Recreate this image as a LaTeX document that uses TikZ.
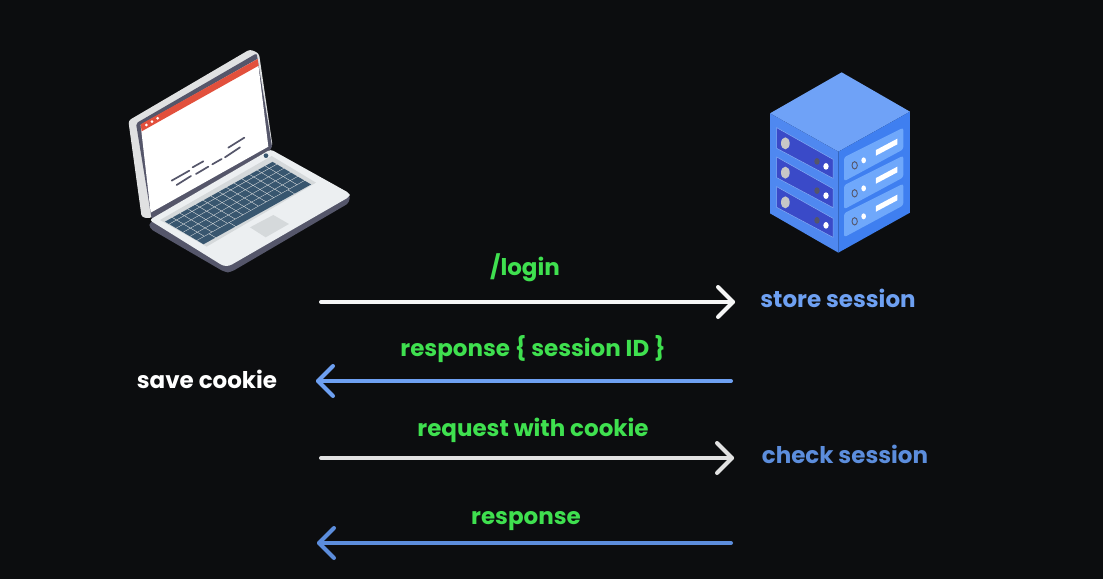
\documentclass[tikz,border=0pt]{standalone}
\usepackage{fontspec}
\setmainfont{Poppins}
\definecolor{bgc}{HTML}{0C0D0F}
\definecolor{grn}{HTML}{3FE04F}
\definecolor{blu}{HTML}{6EA0F2}
\definecolor{blud}{HTML}{5C8DDC}
\definecolor{wht}{HTML}{F6F6F6}
\definecolor{lid}{HTML}{E0E1E2}
\definecolor{bez}{HTML}{55566A}
\definecolor{redb}{HTML}{E2503C}
\definecolor{basec}{HTML}{ECEFF1}
\definecolor{well}{HTML}{D5D9DB}
\definecolor{keyc}{HTML}{38566F}
\definecolor{stop}{HTML}{6FA2F7}
\definecolor{sleft}{HTML}{4F88F0}
\definecolor{sright}{HTML}{3F7FF0}
\definecolor{pleft}{HTML}{3A4AC8}
\definecolor{pright}{HTML}{6FA8FB}
\newcommand{\keyk}[4]{%
 \pgfmathsetmacro\kx{165+#1*23.2+#2*20.8}%
 \pgfmathsetmacro\ky{575-#1*12.9+#2*12.2}%
 \pgfmathsetmacro\kux{(#3-.09)*23.2}\pgfmathsetmacro\kuy{-(#3-.09)*12.9}%
 \pgfmathsetmacro\kvx{#4*20.8}\pgfmathsetmacro\kvy{#4*12.2}%
 \fill[keyc] (\kx,\ky)--++(\kux,\kuy)--++(\kvx,\kvy)--++(-\kux,-\kuy)--cycle;}
\tikzset{
 lbl/.style={font=\bfseries\fontsize{23}{26}\selectfont},
 flow/.style={line width=4pt,line cap=round,line join=round},
 txtline/.style={draw=bez,line width=1.7pt,line cap=round},
 panelL/.style={fill=pleft,draw=sleft!70!white,line width=.5pt},
 panelR/.style={fill=pright,rounded corners=2.5pt},
}
\begin{document}
\begin{tikzpicture}[x=1pt,y=-1pt]
\fill[bgc] (0,0) rectangle (1103,579);
\useasboundingbox (0,0) rectangle (1103,579);
% laptop, in 1/3 px units
\begin{scope}[shift={(110,30)},x=0.3333pt,y=-0.3333pt]
 \fill[lid,rounded corners=3pt] (55,272)--(420,58)--(447,70)--(488,350)--(120,565)--(95,562)--cycle;
 \fill[bez,rounded corners=2pt] (78,280)--(440,70)--(487,355)--(125,567)--cycle;
 \fill[white] (92,285)--(443,87)--(475,350)--(122,548)--cycle;
 \fill[redb] (92,283)--(443,87)--(446,107)--(95,304)--cycle;
 \foreach \x/\y in {109/285,126/275,143/265} \fill[white] (\x,\y) circle (4.5);
 \draw[txtline] (185,452)--(238,422);
 \draw[txtline] (200,465)--(243,438);
 \draw[txtline] (248,412)--(280,394);
 \draw[txtline] (258,432)--(295,410);
 \draw[txtline] (307,403)--(335,387);
 \draw[txtline] (345,382)--(390,352);
 \draw[txtline] (355,353)--(403,323);
 \fill[bez,rounded corners=4pt] (118,575)--(118,595)--(345,727)--(362,727)--(719,518)--(719,490)--cycle;
 \fill[basec,rounded corners=3pt] (118,570)--(482,358)--(719,490)--(719,500)--(358,708)--(340,708)--cycle;
 \fill[well] (150,570)--(485,378)--(618,458)--(290,650)--cycle;
 \fill[keyc] (468,377) circle (7);
 \foreach \i in {0,...,13}{\keyk{\i}{0}{1}{.55}}
 \foreach \j in {0.65,1.65,2.65,3.65}{\foreach \i in {0,...,13}{\keyk{\i}{\j}{1}{.91}}}
 \keyk{0}{4.65}{1.6}{.91}\keyk{1.6}{4.65}{2.6}{.91}\keyk{4.2}{4.65}{7.6}{.91}\keyk{11.8}{4.65}{2.2}{.91}
 \fill[well] (420,592)--(490,555)--(537,582)--(467,622)--cycle;
\end{scope}
% server
\begin{scope}[shift={(750,60)},x=0.3333pt,y=-0.3333pt]
 \fill[stop] (275,37)--(480,155)--(265,275)--(60,160)--cycle;
 \fill[sleft] (60,160)--(265,275)--(265,578)--(60,460)--cycle;
 \fill[sright] (265,275)--(480,155)--(480,458)--(265,578)--cycle;
 \foreach \d in {0,88,177}{
  \begin{scope}[yshift=-\d*0.3333pt]
  \fill[panelL] (80,203)--(249,298)--(249,355)--(80,265)--cycle;
  \fill[black!22] (106,250) ellipse (13 and 18);
  \fill[bez] (201,304) ellipse (8 and 10);
  \fill[white] (228,319) ellipse (8 and 10);
  \end{scope}
 }
 \foreach \d in {0,84,168}{
  \begin{scope}[yshift=-\d*0.3333pt]
  \fill[panelR] (282,292)--(460,203)--(460,268)--(282,364)--cycle;
  \fill[white] (378,270)--(442,236)--(442,253)--(378,287)--cycle;
  \fill[white] (341,301) ellipse (7 and 9);
  \draw[bez,line width=.9pt] (314,316) ellipse (8 and 11);
  \end{scope}
 }
\end{scope}
% anchors
\coordinate (a1l) at (321,302); \coordinate (a1r) at (733,302);
\coordinate (a2l) at (318,381); \coordinate (a2r) at (731,381);
\coordinate (a3l) at (321,458); \coordinate (a3r) at (732,458);
\coordinate (a4l) at (319,543); \coordinate (a4r) at (731,543);
\draw[flow,wht] (a1l)--(a1r);
\draw[flow,wht] ([shift={(-15,-15)}]a1r)--(a1r)--([shift={(-15,15)}]a1r);
\draw[flow,blu] (a2r)--(a2l);
\draw[flow,blu] ([shift={(15,-15)}]a2l)--(a2l)--([shift={(15,15)}]a2l);
\draw[flow,wht!92!black] (a3l)--(a3r);
\draw[flow,wht!92!black] ([shift={(-15,-15)}]a3r)--(a3r)--([shift={(-15,15)}]a3r);
\draw[flow,blud] (a4r)--(a4l);
\draw[flow,blud] ([shift={(15,-15)}]a4l)--(a4l)--([shift={(15,15)}]a4l);
\node[lbl,text=grn] (t1) at (525,268) {/login};
\node[lbl,text=grn] (t2) at (533,349) {response \{ session ID \}};
\node[lbl,text=grn] (t3) at (533,430) {request with cookie};
\node[lbl,text=grn] (t4) at (526,521) {response};
\node[lbl,text=white] (s1) at (207,379) {save cookie};
\node[lbl,text=blu] (s2) at (838,298) {store session};
\node[lbl,text=blud] (s3) at (845,454) {check session};
\end{tikzpicture}
\end{document}
